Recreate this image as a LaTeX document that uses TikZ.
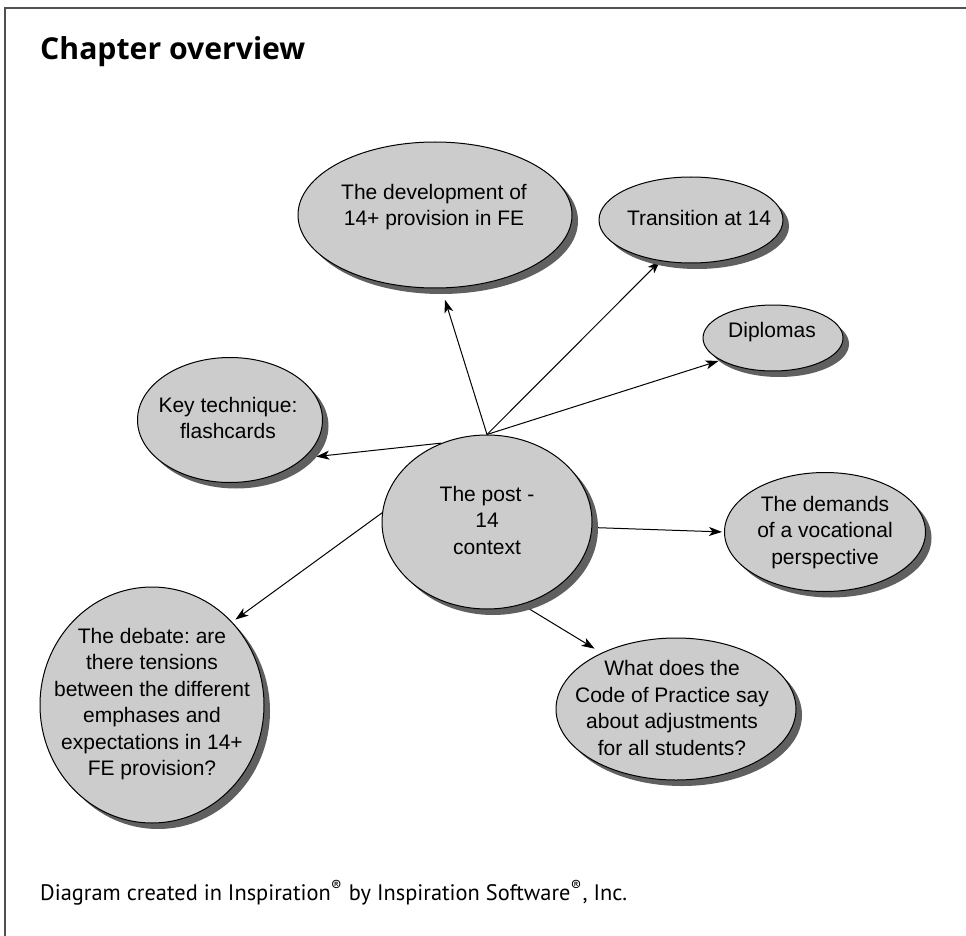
\documentclass[tikz,border=0pt]{standalone}
\usepackage{fontspec}
\setmainfont{Liberation Sans}
\newfontfamily\headfont{Open Sans}
\newfontfamily\notefont{PT Sans}
\usetikzlibrary{shapes.geometric,shadows,arrows.meta}
\pgfdeclarelayer{background}
\pgfsetlayers{background,main}
\definecolor{bubblefill}{HTML}{CCCCCC}
\definecolor{bubbleshadow}{HTML}{606060}
\definecolor{framegray}{HTML}{505050}
\frenchspacing

\begin{document}
\begin{tikzpicture}[x=1pt,y=-1pt,
  bubble/.style={ellipse, draw=black, line width=1pt, fill=bubblefill, inner sep=0pt,
    drop shadow={shadow xshift=6pt, shadow yshift=-6pt, fill=bubbleshadow, opacity=1}},
  bubbletext/.style={font=\fontsize{21}{26.5}\selectfont, align=center, inner sep=0pt,
    execute at begin node=\strut, execute at end node=\strut},
  link/.style={-{Stealth[length=13pt,width=9pt,inset=3.5pt]}, line width=1pt, black}]

\useasboundingbox (0,0) rectangle (966,936);

% page frame (left and top edges)
\draw[framegray, line width=2pt] (5,936) -- (5,8.5) -- (966,8.5);

% headings
\node[anchor=base west, inner sep=0pt] (title) at (40,60)
  {\resizebox{265pt}{!}{\headfont\bfseries Chapter overview}};
\node[anchor=base west, inner sep=0pt] (credit) at (40,900)
  {\resizebox{587pt}{!}{\notefont Diagram created in Inspiration\textsuperscript{®} by Inspiration Software\textsuperscript{®}, Inc.}};

% bubbles
\node[bubble, minimum width=210pt, minimum height=174pt] (post) at (487,522) {};
\node[bubble, minimum width=274pt, minimum height=146pt] (dev) at (435,215) {};
\node[bubble, minimum width=184pt, minimum height=86pt] (trans) at (691,220) {};
\node[bubble, minimum width=140pt, minimum height=66pt] (dip) at (773,338) {};
\node[bubble, minimum width=185pt, minimum height=125pt] (key) at (230,420) {};
\node[bubble, minimum width=201pt, minimum height=119pt] (dem) at (825,532) {};
\node[bubble, minimum width=240pt, minimum height=142pt] (code) at (676,709) {};
\node[bubble, minimum width=224pt, minimum height=236pt] (deb) at (152,705) {};

% bubble texts
\node[bubbletext] (posttext) at (487,524) {The post -\\14\\context};
\node[bubbletext] (devtext) at (434,209) {The development of\\14+ provision in FE};
\node[bubbletext] (transtext) at (699,220) {Transition at 14};
\node[bubbletext] (diptext) at (772,332) {Diplomas};
\node[bubbletext] (keytext) at (228,422) {Key technique:\\flashcards};
\node[bubbletext] (demtext) at (825,534) {The demands\\of a vocational\\perspective};
\node[bubbletext] (codetext) at (672,712) {What does the\\Code of Practice say\\about adjustments\\for all students?};
\node[bubbletext] (debtext) at (152,706) {The debate: are\\there tensions\\between the different\\emphases and\\expectations in 14+\\FE provision?};

% connectors, kept underneath the bubbles
\begin{pgfonlayer}{background}
\draw[link, shorten >=12pt] (post.north) -- (dev.-85);
\draw[link] (post.north) -- (trans.-127);
\draw[link, shorten >=2pt] (post.north) -- (dip.-157);
\draw[link, shorten >=12pt] (post.120) -- (key.-27);
\draw[link, shorten >=2pt] (post.-3) -- (dem.180);
\draw[link, shorten >=8pt] (post.-67) -- (code.143);
\draw[link, shorten >=4pt] (post.175) -- (deb.46);
\end{pgfonlayer}
\end{tikzpicture}
\end{document}
